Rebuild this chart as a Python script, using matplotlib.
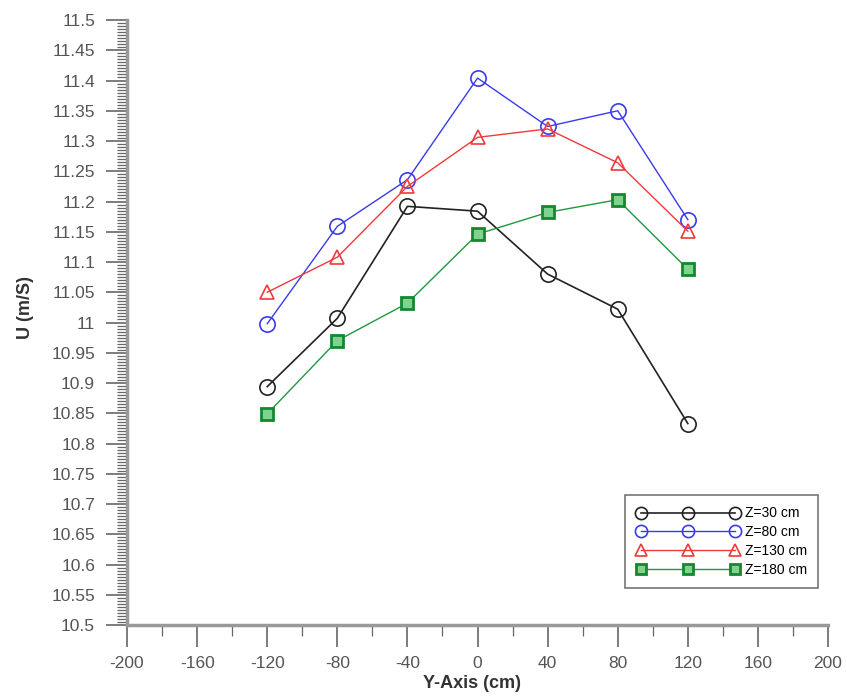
import matplotlib.pyplot as plt
import numpy as np
from matplotlib.ticker import MultipleLocator

y_pos = [-120, -80, -40, 0, 40, 80, 120]

u_z30 = [10.894, 11.007, 11.192, 11.184, 11.080, 11.022, 10.833]
u_z80 = [10.998, 11.159, 11.236, 11.404, 11.324, 11.350, 11.170]
u_z130 = [11.050, 11.108, 11.225, 11.306, 11.320, 11.264, 11.151]
u_z180 = [10.849, 10.970, 11.032, 11.146, 11.182, 11.203, 11.088]

labels = ['Z=30 cm', 'Z=80 cm', 'Z=130 cm', 'Z=180 cm']

plt.rcParams['font.family'] = ['Liberation Sans', 'DejaVu Sans']
plt.rcParams['axes.unicode_minus'] = False

fig = plt.figure(figsize=(8.47, 6.97), dpi=100)
ax = fig.add_axes([0.150, 0.1033, 0.8276, 0.868])

ax.plot(y_pos, u_z30, color='#222222', lw=1.2, marker='o', ms=11,
        mfc='none', mec='#222222', mew=1.2, label=labels[0])
ax.plot(y_pos, u_z80, color='#3a3aee', lw=1.0, marker='o', ms=11,
        mfc='none', mec='#3a3aee', mew=1.2, label=labels[1])
ax.plot(y_pos, u_z130, color='#ee3a3a', lw=1.0, marker='^', ms=10,
        mfc='none', mec='#ee3a3a', mew=1.2, label=labels[2])
ax.plot(y_pos, u_z180, color='#1c9a3c', lw=1.0, marker='s', ms=9,
        mfc='#7fd28f', mec='#14882e', mew=2.0, label=labels[3])

ax.set_xlim(-200, 200)
ax.set_ylim(10.5, 11.5)
ax.xaxis.set_major_locator(MultipleLocator(40))
ax.xaxis.set_minor_locator(MultipleLocator(20))
ax.yaxis.set_minor_locator(MultipleLocator(0.005))
yt = np.arange(10.5, 11.5001, 0.05)
ax.set_yticks(yt)
ax.set_yticklabels(['%g' % round(v, 2) for v in yt])

for s in ['top', 'right']:
    ax.spines[s].set_visible(False)
for s in ['left', 'bottom']:
    ax.spines[s].set_color('#999999')
    ax.spines[s].set_linewidth(2.5)

ax.tick_params(axis='y', which='major', direction='out', length=15, width=1.2,
               color='#666666', labelsize=12.5, labelcolor='#555555', pad=8)
ax.tick_params(axis='y', which='minor', direction='out', length=7, width=0.9,
               color='#666666')
ax.tick_params(axis='x', which='major', direction='out', length=16, width=1.2,
               color='#666666', labelsize=12.5, labelcolor='#555555', pad=6)
ax.tick_params(axis='x', which='minor', direction='out', length=8, width=0.9,
               color='#666666')

ax.set_xlabel('Y-Axis (cm)', fontsize=13, fontweight='bold', color='#333333')
ax.set_ylabel('U (m/S)', fontsize=13, fontweight='bold', color='#333333')
ax.xaxis.set_label_coords(0.492, -0.096)
ax.yaxis.set_label_coords(-0.145, 0.525)
ax.xaxis.label.set_va('center')
ax.yaxis.label.set_va('center')

leg = ax.legend(loc='lower right', bbox_to_anchor=(0.9857, 0.061),
                borderaxespad=0, numpoints=3, fontsize=10, handlelength=7.4,
                frameon=True, fancybox=False, edgecolor='#555555',
                borderpad=0.8, labelspacing=0.35, handletextpad=0.4,
                markerscale=0.8)
leg.get_frame().set_linewidth(1.2)

plt.savefig('out.png', dpi=100)
